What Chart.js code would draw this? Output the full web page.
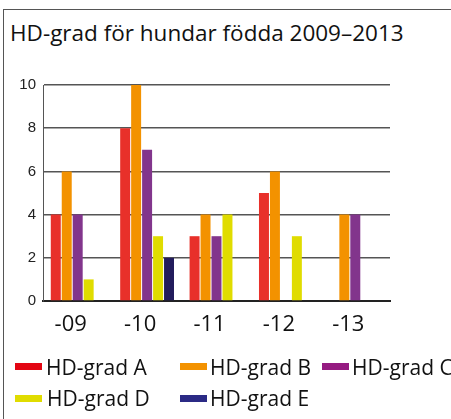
<!DOCTYPE html>
<html>
<head>
<meta charset="utf-8">
<script src="https://cdn.jsdelivr.net/npm/chart.js@4/dist/chart.umd.min.js"></script>
<style>
  html, body { margin: 0; padding: 0; background: #fff; }
  #wrap { position: relative; width: 451px; height: 419px; overflow: hidden; }
  #frame { position: absolute; left: 3px; top: 9px; width: 460px; height: 420px;
           border-left: 1px solid #555; border-top: 1px solid #555; }
  #title { position: absolute; left: 10px; top: 17px; font: 22.5px "Open Sans", sans-serif; color: #111; white-space: nowrap; }
  canvas { position: absolute; left: 0; top: 0; }
  .lg { position: absolute; font: 21px "Open Sans", sans-serif; color: #111; white-space: nowrap; }
  .sw { position: absolute; width: 27px; height: 7px; }
</style>
</head>
<body>
<div id="wrap">
  <div id="frame"></div>
  <div id="title">HD-grad för hundar födda 2009–2013</div>
  <canvas id="c" width="451" height="419"></canvas>
  <div id="legend"></div>
</div>
<script>
var years = ["-09", "-10", "-11", "-12", "-13"];
var gradA = [4, 8, 3, 5, 0];
var gradB = [6, 10, 4, 6, 4];
var gradC = [4, 7, 3, 0, 4];
var gradD = [1, 3, 4, 3, 0];
var gradE = [0, 2, 0, 0, 0];
var seriesNames = ["HD-grad A", "HD-grad B", "HD-grad C", "HD-grad D", "HD-grad E"];
var barColors = ["#e8302a", "#f39200", "#82358c", "#e0dc00", "#221c5c"];
var legendColors = ["#e30613", "#f39200", "#951b81", "#e0dc00", "#2b2a85"];

var allSeries = [gradA, gradB, gradC, gradD, gradE];
var datasets = allSeries.map(function(values, i) {
  return {
    label: seriesNames[i],
    data: values,
    backgroundColor: barColors[i],
    borderWidth: 0,
    barPercentage: 0.91,
    categoryPercentage: 0.79
  };
});

new Chart(document.getElementById("c").getContext("2d"), {
  type: "bar",
  data: { labels: years, datasets: datasets },
  options: {
    responsive: false,
    animation: false,
    layout: { padding: { left: 13, top: 85, right: 61, bottom: 78 } },
    plugins: { legend: { display: false }, tooltip: { enabled: false } },
    scales: {
      x: {
        grid: { display: false },
        border: { color: "#222", width: 2 },
        ticks: { color: "#111", font: { family: "Open Sans", size: 22 }, padding: 3, labelOffset: -7 },
        afterFit: function(s) { s.height = 40; }
      },
      y: {
        min: 0,
        max: 10,
        ticks: { stepSize: 2, color: "#222", font: { family: "Liberation Sans", size: 15 }, padding: 7 },
        grid: { color: "#555", lineWidth: 1.5, drawTicks: false },
        border: { color: "#555", width: 1 },
        afterFit: function(s) { s.width = 30; }
      }
    }
  }
});

// legend laid out like the original, last item runs off the right edge
// [swatch x, text x, row]
var legendPos = [[15, 46, 0], [180, 210, 0], [322, 352, 0], [15, 47, 1], [180, 210, 1]];
var rowTop = [353, 384];
var swTop = [363, 395];
var lg = document.getElementById("legend");
seriesNames.forEach(function(name, i) {
  var p = legendPos[i];
  var sw = document.createElement("div");
  sw.className = "sw";
  sw.style.left = p[0] + "px";
  sw.style.top = swTop[p[2]] + "px";
  sw.style.background = legendColors[i];
  lg.appendChild(sw);
  var t = document.createElement("div");
  t.className = "lg";
  t.textContent = name;
  t.style.left = p[1] + "px";
  t.style.top = rowTop[p[2]] + "px";
  lg.appendChild(t);
});
</script>
</body>
</html>
